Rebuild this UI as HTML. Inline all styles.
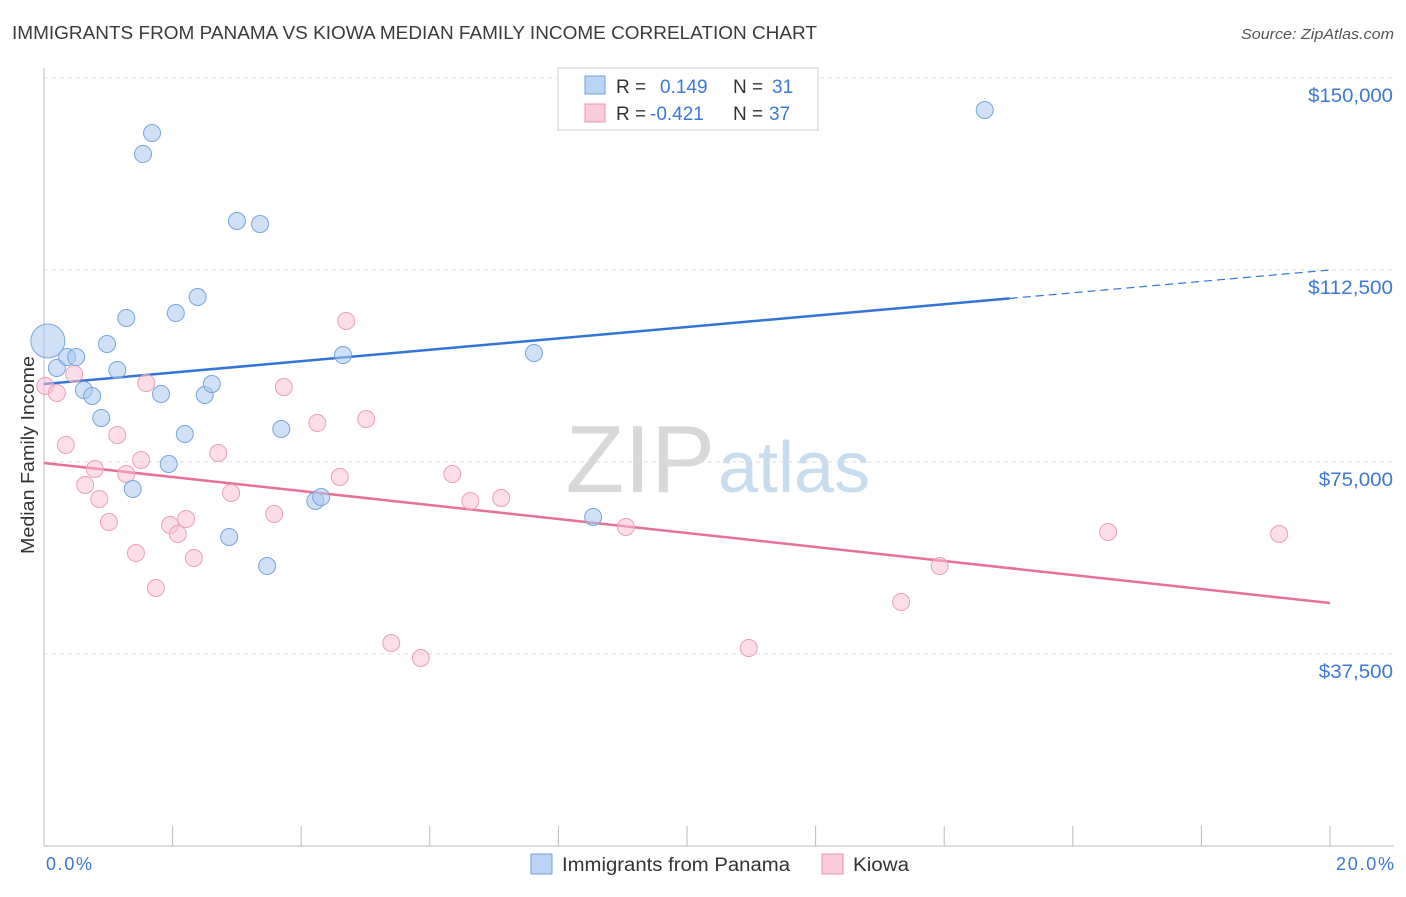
<!DOCTYPE html>
<html><head><meta charset="utf-8">
<style>
body{margin:0;background:#fff;font-family:"Liberation Sans",sans-serif;}
svg text{font-family:"Liberation Sans",sans-serif;}
</style></head>
<body>
<svg id="chart" width="1406" height="892">
<text x="12" y="39" font-size="18" fill="#3a3a3a" textLength="805" lengthAdjust="spacingAndGlyphs">IMMIGRANTS FROM PANAMA VS KIOWA MEDIAN FAMILY INCOME CORRELATION CHART</text>
<text x="1394" y="39" font-size="15" fill="#555" font-style="italic" text-anchor="end" textLength="153" lengthAdjust="spacingAndGlyphs">Source: ZipAtlas.com</text>
<text x="715" y="492" font-size="96" fill="#d8d8d8" text-anchor="end" font-family="Liberation Serif">ZIP</text>
<text x="718" y="492" font-size="72" fill="#c8dcf0">atlas</text>
<text transform="translate(34,455) rotate(-90)" font-size="18" fill="#333" text-anchor="middle" textLength="198" lengthAdjust="spacingAndGlyphs">Median Family Income</text>
<g id="grid"></g><g id="axes"></g><g id="trend"></g><g id="pts"></g>
<g>
<rect x="558" y="68" width="260" height="62" fill="#fff" stroke="#ccc"/>
<rect x="585" y="76" width="20" height="18" fill="#b9d4f4" stroke="#6e9fd8"/>
<text x="616" y="93" font-size="19" fill="#333">R =</text><text x="660" y="93" font-size="19" fill="#3b78d8">0.149</text>
<text x="733" y="93" font-size="19" fill="#333">N =</text><text x="772" y="93" font-size="19" fill="#3b78d8">31</text>
<rect x="585" y="104" width="20" height="18" fill="#fbcbd9" stroke="#e895b0"/>
<text x="616" y="120" font-size="19" fill="#333">R =</text><text x="650" y="120" font-size="19" fill="#3b78d8">-0.421</text>
<text x="733" y="120" font-size="19" fill="#333">N =</text><text x="769" y="120" font-size="19" fill="#3b78d8">37</text>
</g>
<g>
<rect x="531" y="854" width="21" height="20" fill="#b9d4f4" stroke="#6e9fd8"/>
<text x="562" y="871" font-size="19" fill="#333" textLength="228" lengthAdjust="spacingAndGlyphs">Immigrants from Panama</text>
<rect x="822" y="854" width="21" height="20" fill="#fbcbd9" stroke="#e895b0"/>
<text x="853" y="871" font-size="19" fill="#333" textLength="56" lengthAdjust="spacingAndGlyphs">Kiowa</text>
</g>
<text x="46" y="870" font-size="18" fill="#3b78d8" textLength="46">0.0%</text>
<text x="1394" y="870" font-size="18" fill="#3b78d8" text-anchor="end" textLength="58">20.0%</text>
</svg>
<script>
const yTicks=[37500,75000,112500,150000];
const yTickLabels=["$37,500","$75,000","$112,500","$150,000"];
const xTicks=[0,2,4,6,8,10,12,14,16,18,20];
const blueX=[0.06,0.2,0.36,0.5,0.62,0.75,0.89,0.98,1.14,1.28,1.38,1.54,1.68,1.82,1.94,2.05,2.19,2.39,2.5,2.61,2.88,3.0,3.36,3.47,3.69,4.22,4.31,4.65,7.62,8.54,14.63];
const blueY=[98630,93360,95500,95500,89060,87890,83590,98050,92970,103120,69730,135150,139250,88280,74610,104100,80470,107230,88090,90230,60350,122070,121480,54690,81450,67380,68160,95900,96290,64260,143750];
const pinkX=[0.02,0.2,0.34,0.47,0.64,0.79,0.86,1.01,1.14,1.28,1.43,1.51,1.59,1.74,1.96,2.08,2.21,2.33,2.71,2.91,3.58,3.73,4.25,4.6,4.7,5.01,5.4,5.86,6.35,6.63,7.11,9.05,10.96,13.33,13.93,16.55,19.21];
const pinkY=[89840,88480,78320,92190,70510,73630,67770,63280,80270,72660,57230,75390,90430,50390,62700,60940,63870,56250,76760,68950,64840,89650,82620,72070,102540,83400,39650,36720,72660,67380,67970,62300,38670,47660,54690,61330,60940];
const blueTrend=[90230,112500];
const pinkTrend=[74800,47460];
const NS="http://www.w3.org/2000/svg";
const xs=v=>44+v/20*1286;
const ys=v=>462-(v-75000)*192/37500;
function mk(tag,attrs,parent){const e=document.createElementNS(NS,tag);for(const k in attrs)e.setAttribute(k,attrs[k]);document.getElementById(parent).appendChild(e);return e;}
yTicks.forEach((t,i)=>{
 const l=mk('line',{x1:44,x2:1394,y1:ys(t),y2:ys(t),stroke:'#ddd','stroke-dasharray':'4,4'},'grid');
 
 
 const tx=mk('text',{x:1393,y:ys(t)+24,'font-size':19,fill:'#3b78d8','text-anchor':'end',textLength:yTickLabels[i].length*10.6,lengthAdjust:'spacingAndGlyphs'},'grid');
 tx.textContent=yTickLabels[i];
 
 
});
const ax=mk('line',{x1:44,x2:44,y1:68,y2:846,stroke:'#bbb'},'axes');


const bx=mk('line',{x1:44,x2:1394,y1:846,y2:846,stroke:'#bbb'},'axes');


xTicks.forEach(t=>{
 const l=mk('line',{x1:xs(t),x2:xs(t),y1:826,y2:846,stroke:'#bbb'},'axes');
 
 
});
const bxEnd=15.02;
const bSlope=(blueTrend[1]-blueTrend[0])/20;
const b1=mk('line',{x1:xs(0),y1:ys(blueTrend[0]),x2:xs(bxEnd),y2:ys(blueTrend[0]+bSlope*bxEnd),stroke:'#3375d6','stroke-width':2.5},'trend');


const b2=mk('line',{x1:xs(bxEnd),y1:ys(blueTrend[0]+bSlope*bxEnd),x2:xs(20),y2:ys(blueTrend[1]),stroke:'#3375d6','stroke-width':1.2,'stroke-dasharray':'8,5'},'trend');


const p1=mk('line',{x1:xs(0),y1:ys(pinkTrend[0]),x2:xs(20),y2:ys(pinkTrend[1]),stroke:'#e8709a','stroke-width':2.5},'trend');


pinkX.forEach((x,i)=>{
 const c=mk('circle',{cx:xs(x),cy:ys(pinkY[i]),r:8.5,fill:'rgba(251,190,210,0.5)',stroke:'#eaa0b8','stroke-width':1},'pts');
 
 
});
blueX.forEach((x,i)=>{
 const c=mk('circle',{cx:xs(x),cy:ys(blueY[i]),r:i===0?17:8.5,fill:'rgba(170,200,240,0.55)',stroke:'#78a5dc','stroke-width':1},'pts');
 
 
});
</script>
</body></html>
